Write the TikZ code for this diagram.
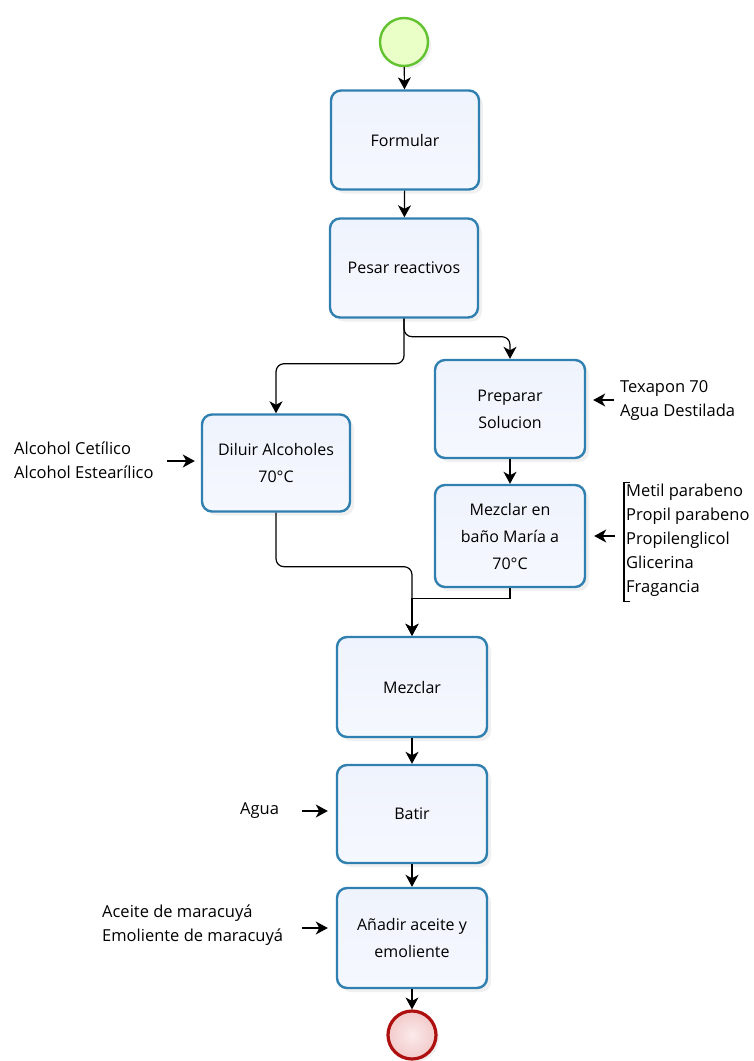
\documentclass[tikz,border=0pt]{standalone}
\usepackage{fontspec}
\setmainfont{Open Sans}
\usetikzlibrary{arrows.meta,shadows,calc}
\definecolor{boxblue}{HTML}{2F7FB0}
\definecolor{boxfill}{HTML}{EFF3FD}
\definecolor{startfill}{HTML}{EAFFC8}
\definecolor{startline}{HTML}{62C230}
\definecolor{endfill}{HTML}{F3CACA}
\definecolor{endline}{HTML}{AE1010}
\tikzset{
  task/.style={draw=boxblue, line width=2.4pt, rounded corners=10pt,
    top color=boxfill, bottom color=boxfill!60!white, minimum width=148pt, minimum height=99pt,
    align=center, font=\fontsize{16}{27}\selectfont,
    drop shadow={shadow xshift=4pt, shadow yshift=-4pt, opacity=0.12}},
  startev/.style={circle, draw=startline, line width=2.4pt, fill=startfill, minimum size=48pt,
    drop shadow={shadow xshift=3pt, shadow yshift=-3pt, opacity=0.12}},
  endev/.style={circle, draw=endline, line width=3.2pt, inner color=endfill!40!white, outer color=endfill, minimum size=48pt,
    drop shadow={shadow xshift=3pt, shadow yshift=-3pt, opacity=0.12}},
  conn/.style={line width=1.2pt, -{Stealth[length=12pt,width=13pt,inset=3.5pt]}},
  lbl/.style={align=left, inner sep=0pt, font=\fontsize{16.5}{24}\selectfont},
}
\begin{document}
\begin{tikzpicture}[x=1pt,y=-1pt]
\useasboundingbox (0,0) rectangle (753,1061);
\node[startev] (start) at (404,42) {};
\node[task] (formular) at (405,140) {Formular};
\node[task] (pesar) at (404,268) {Pesar reactivos};
\node[task, minimum width=150pt, minimum height=98pt] (preparar) at (510,409) {Preparar\\Solucion};
\node[task, minimum height=97pt] (diluir) at (276,463) {Diluir Alcoholes\\70°C};
\node[task, minimum width=150pt, minimum height=102pt] (banio) at (510,536) {Mezclar en\\baño María a\\70°C};
\node[task, minimum width=150pt, minimum height=100pt] (mezclar) at (412,687) {Mezclar};
\node[task, minimum width=150pt, minimum height=98pt] (batir) at (412,814) {Batir};
\node[task, minimum width=150pt, minimum height=100pt] (anadir) at (412,938) {Añadir aceite y\\emoliente};
\node[endev] (end) at (412,1035) {};

\draw[conn] (start) -- (formular);
\draw[conn] (formular) -- (pesar);
\draw[conn, rounded corners=8pt] (pesar.south) -- ++(0,45) -| (diluir.north);
\draw[conn, rounded corners=8pt] (pesar.south) -- ++(0,18) -| (preparar.north);
\draw[conn] (preparar) -- (banio);
\draw[conn, rounded corners=8pt] (diluir.south) -- ++(0,54) -| (mezclar.north);
\draw[conn] (banio.south) -- ++(0,10) -| (mezclar.north);
\draw[conn] (mezclar) -- (batir);
\draw[conn] (batir) -- (anadir);
\draw[conn] (anadir) -- (end);

% side inputs
\node[lbl, anchor=west] (texapon) at (620,400) {Texapon 70\\Agua Destilada};
\coordinate (texaponA) at (614,400);
\draw[conn] (texaponA) -- ([xshift=7pt]preparar.east |- texaponA);

\node[lbl, anchor=west] (lista) at (626,540) {Metil parabeno\\Propil parabeno\\Propilenglicol\\Glicerina\\Fragancia};
\draw[line width=1.2pt] ($(lista.north west)+(4,-1)$) -- ++(-6,0) |- ($(lista.south west)+(4,5)$);
\coordinate (listaA) at (615,536);
\draw[conn] (listaA) -- ([xshift=8pt]banio.east |- listaA);

\node[lbl, anchor=west] (alcohol) at (14,460) {Alcohol Cetílico\\Alcohol Estearílico};
\coordinate (alcoholA) at (167,461);
\draw[conn] (alcoholA) -- ([xshift=-6pt]diluir.west |- alcoholA);

\node[lbl, anchor=west] (agua) at (240,811) {Agua};
\coordinate (aguaA) at (302,811);
\draw[conn] (aguaA) -- ([xshift=-8pt]batir.west |- aguaA);

\node[lbl, anchor=west] (aceite) at (102,925) {Aceite de maracuyá\\Emoliente de maracuyá};
\coordinate (aceiteA) at (302,928);
\draw[conn] (aceiteA) -- ([xshift=-8pt]anadir.west |- aceiteA);
\end{tikzpicture}
\end{document}
